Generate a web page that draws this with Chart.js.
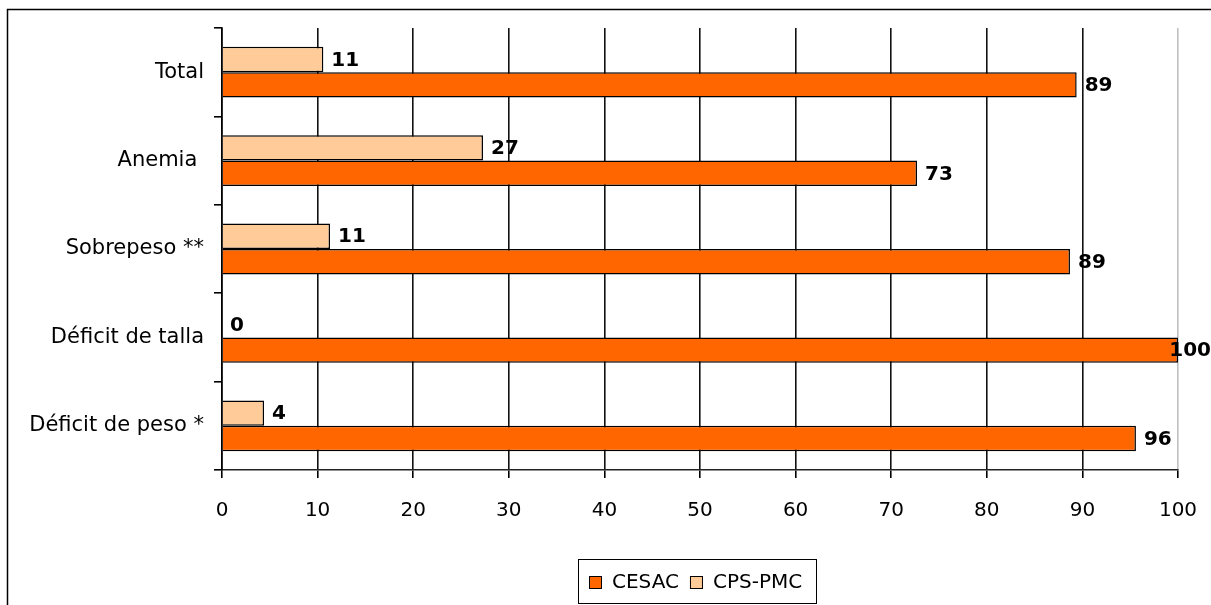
<!DOCTYPE html>
<html>
<head>
<meta charset="utf-8">
<script src="https://cdn.jsdelivr.net/npm/chart.js@4/dist/chart.umd.min.js"></script>
<style>
  html, body { margin: 0; padding: 0; background: #fff; overflow: hidden; }
  canvas { display: block; }
</style>
</head>
<body>
<canvas id="chart" width="1211" height="605"></canvas>
<script>
const categories = ['Total', 'Anemia ', 'Sobrepeso **', 'Déficit de talla', 'Déficit de peso *'];
const cpsPmc = [10.6, 27.3, 11.3, 0, 4.4];
const cesac = [89.4, 72.7, 88.7, 100, 95.6];
const xTicks = [0, 10, 20, 30, 40, 50, 60, 70, 80, 90, 100];

const orange = '#FF6600';
const peach = '#FFCC99';

Chart.defaults.font.family = 'DejaVu Sans';
Chart.defaults.color = '#000';

// white background + outer frame of the chart object
const frame = {
  id: 'frame',
  beforeDraw(chart) {
    const c = chart.ctx;
    c.save();
    c.fillStyle = '#fff';
    c.fillRect(0, 0, chart.width, chart.height);
    c.strokeStyle = '#000';
    c.lineWidth = 1.5;
    c.strokeRect(7.5, 9.5, chart.width + 20, chart.height + 20);
    c.restore();
  }
};

// value labels at the end of each bar
const valueLabels = {
  id: 'valueLabels',
  afterDatasetsDraw(chart) {
    const c = chart.ctx;
    c.save();
    c.font = 'bold 20px DejaVu Sans';
    c.fillStyle = '#000';
    c.textBaseline = 'middle';
    chart.data.datasets.forEach((ds, i) => {
      chart.getDatasetMeta(i).data.forEach((bar, j) => {
        const txt = String(Math.round(ds.data[j]));
        const w = c.measureText(txt).width;
        let x = bar.x + 8;
        if (x + w > chart.width) x = chart.width - w;
        c.fillText(txt, x, bar.y + 1);
      });
    });
    c.restore();
  }
};

// boxed legend under the axis
const boxLegend = {
  id: 'boxLegend',
  afterDraw(chart) {
    const c = chart.ctx;
    c.save();
    c.strokeStyle = '#000';
    c.lineWidth = 1;
    c.strokeRect(578.5, 559.5, 238, 44);
    c.font = '20px DejaVu Sans';
    c.textBaseline = 'middle';
    const items = [chart.data.datasets[1], chart.data.datasets[0]];
    let x = 589;
    items.forEach(ds => {
      c.fillStyle = ds.backgroundColor;
      c.fillRect(x, 576, 13, 13);
      c.strokeRect(x + 0.5, 576.5, 12, 12);
      c.fillStyle = '#000';
      c.fillText(ds.label, x + 23, 583);
      x += 23 + c.measureText(ds.label).width + 11;
    });
    c.restore();
  }
};

new Chart(document.getElementById('chart'), {
  type: 'bar',
  data: {
    labels: categories,
    datasets: [
      { label: 'CPS-PMC', data: cpsPmc, backgroundColor: peach, borderColor: '#000', borderWidth: 1.5 },
      { label: 'CESAC', data: cesac, backgroundColor: orange, borderColor: '#000', borderWidth: 1.5 }
    ]
  },
  options: {
    indexAxis: 'y',
    responsive: false,
    devicePixelRatio: 1,
    animation: false,
    categoryPercentage: 0.575,
    barPercentage: 1,
    layout: { padding: { top: 28, right: 33, left: 0, bottom: 0 } },
    plugins: { legend: { display: false }, tooltip: { enabled: false } },
    scales: {
      x: {
        min: 0,
        max: 100,
        afterBuildTicks: s => { s.ticks = xTicks.map(v => ({ value: v })); },
        afterFit: s => { s.height = 135; s.paddingRight = 0; s.paddingLeft = 0; },
        grid: {
          color: ctx => (ctx.tick && ctx.tick.value === 100 ? '#c0c0c0' : '#111'),
          tickColor: '#000',
          tickLength: 8,
          lineWidth: 1.6
        },
        border: { color: '#222', width: 1.6 },
        ticks: { font: { size: 20 }, padding: 21, color: '#000' }
      },
      y: {
        afterFit: s => { s.width = 222; s.paddingTop = 0; s.paddingBottom = 0; },
        grid: { offset: true, drawOnChartArea: false, color: '#000', tickLength: 8, lineWidth: 1.6 },
        border: { color: '#000', width: 1.6 },
        ticks: { font: { size: 21 }, padding: 10, color: '#000' }
      }
    }
  },
  plugins: [frame, valueLabels, boxLegend]
});
</script>
</body>
</html>
